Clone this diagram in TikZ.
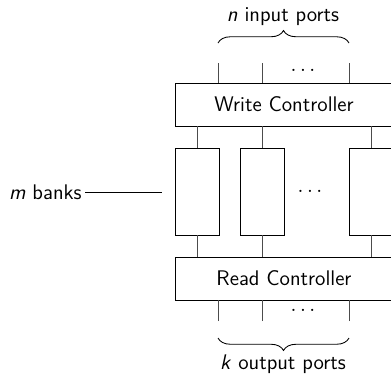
\documentclass[tikz,border=0pt]{standalone}
\usetikzlibrary{decorations.pathreplacing}
\begin{document}
\begin{tikzpicture}[x=0.52pt,y=-0.52pt,
  font=\sffamily\fontsize{11}{13}\selectfont,
  ctrl/.style={draw, line width=0.45pt, minimum width=218*0.52pt, minimum height=43*0.52pt, inner sep=0pt},
  bank/.style={draw, line width=0.45pt, minimum width=44*0.52pt, minimum height=87*0.52pt, inner sep=0pt},
  wire/.style={draw=black!70, line width=0.45pt},
  bracket/.style={decorate, decoration={brace, amplitude=6.5pt}, line width=0.45pt},
  lbl/.style={inner sep=0pt}]
  \useasboundingbox (0,0) rectangle (391,373);
  \clip (0,0) rectangle (391,373);

  % controllers
  \node[ctrl] (wc) at (284,104.5) {Write Controller};
  \node[ctrl] (rc) at (284,278.5) {Read Controller};

  % memory banks
  \node[bank] (b1) at (197,191.5) {};
  \node[bank] (b2) at (262,191.5) {};
  \node[bank] (b3) at (371,191.5) {};
  \node[lbl] (bdots) at (310,191) {$\ldots$};

  \foreach \b in {b1,b2,b3} {
    \draw[wire] (\b.north) -- (\b.north |- wc.south);
    \draw[wire] (\b.south) -- (\b.south |- rc.north);
  }

  % input ports
  \coordinate (i1) at (218,63);
  \coordinate (i2) at (262,63);
  \coordinate (i3) at (349,63);
  \foreach \p in {i1,i2,i3}
    \draw[wire] (\p) -- (\p |- wc.north);
  \node[lbl] (idots) at (303,70) {$\ldots$};

  % output ports
  \coordinate (o1) at (218,321);
  \coordinate (o2) at (262,321);
  \coordinate (o3) at (349,321);
  \foreach \p in {o1,o2,o3}
    \draw[wire] (\p) -- (\p |- rc.south);
  \node[lbl] (odots) at (303,310) {$\ldots$};

  % braces and their labels
  \coordinate (tl) at (218,43);
  \coordinate (tr) at (349,43);
  \draw[bracket] (tl) -- (tr);
  \node[lbl] (nin) at (283,17) {\textit{n} input ports};

  \coordinate (bl) at (218,338);
  \coordinate (br) at (349,338);
  \draw[bracket] (br) -- (bl);
  \node[lbl] (kout) at (283,364) {\textit{k} output ports};

  % bank label
  \node[lbl, anchor=east] (mb) at (82,192) {\textit{m} banks};
  \coordinate (mbend) at (162,192);
  \draw[line width=0.45pt] (mb.east) ++(3,0) -- (mbend);
\end{tikzpicture}
\end{document}
